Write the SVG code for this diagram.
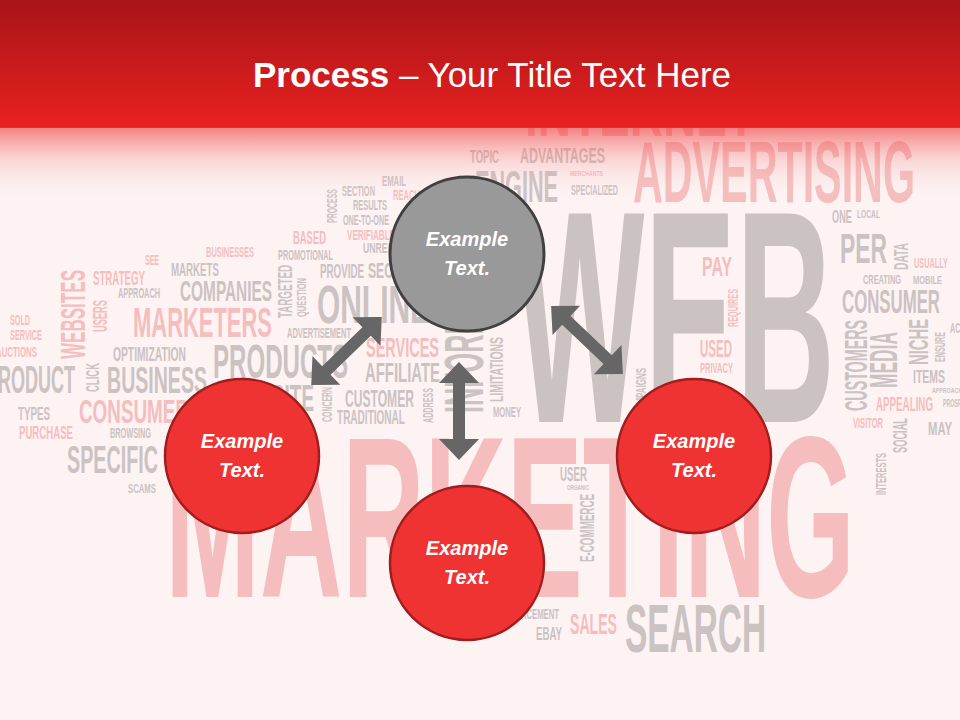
<svg xmlns="http://www.w3.org/2000/svg" width="960" height="720" viewBox="0 0 960 720">
<defs>
<linearGradient id="hdr" x1="0" y1="0" x2="0" y2="1">
<stop offset="0" stop-color="#a81417"/>
<stop offset="1" stop-color="#e92121"/>
</linearGradient>
<linearGradient id="fade" x1="0" y1="0" x2="0" y2="1">
<stop offset="0" stop-color="#ee3030" stop-opacity="0.6"/>
<stop offset="0.45" stop-color="#f38080" stop-opacity="0.25"/>
<stop offset="1" stop-color="#fdf3f3" stop-opacity="0"/>
</linearGradient>
<style>
.w{font-family:"Liberation Sans","DejaVu Sans",sans-serif;font-weight:bold}
.g{fill:#cbc2c2}
.p{fill:#f5bdbd}
.cg{fill:#999999;stroke:#404040;stroke-width:3}
.cr{fill:#ef3333;stroke:#a11c1c;stroke-width:2.5}
.lbl{font-family:"Liberation Sans","DejaVu Sans",sans-serif;font-weight:bold;font-style:italic;font-size:20px;fill:#ffffff;text-anchor:middle}
.arr{fill:#666666}
.title{font-family:"Liberation Sans","DejaVu Sans",sans-serif;font-size:35px;fill:#ffffff;text-anchor:middle}
</style>
</defs>
<rect x="0" y="0" width="960" height="720" fill="#fdf3f3"/>
<g id="wordcloud">
<text class="w g" x="515" y="422" font-size="303" textLength="320" lengthAdjust="spacingAndGlyphs">WEB</text>
<text class="w p" x="165" y="597" font-size="230" textLength="690" lengthAdjust="spacingAndGlyphs">MARKETING</text>
<text class="w p" x="633" y="202" font-size="87" textLength="282" lengthAdjust="spacingAndGlyphs">ADVERTISING</text>
<text class="w p" x="525" y="136" font-size="70" textLength="230" lengthAdjust="spacingAndGlyphs">INTERNET</text>
<text class="w g" x="475" y="202" font-size="45" textLength="83" lengthAdjust="spacingAndGlyphs">ENGINE</text>
<text class="w g" x="470" y="163" font-size="18" textLength="29" lengthAdjust="spacingAndGlyphs">TOPIC</text>
<text class="w g" x="520" y="163" font-size="22" textLength="85" lengthAdjust="spacingAndGlyphs">ADVANTAGES</text>
<text class="w p" x="570" y="176" font-size="7" textLength="33" lengthAdjust="spacingAndGlyphs">MERCHANTS</text>
<text class="w g" x="571" y="195" font-size="14" textLength="47" lengthAdjust="spacingAndGlyphs">SPECIALIZED</text>
<text class="w g" x="382" y="186" font-size="15" textLength="24" lengthAdjust="spacingAndGlyphs">EMAIL</text>
<text class="w g" x="342" y="196" font-size="14" textLength="33" lengthAdjust="spacingAndGlyphs">SECTION</text>
<text class="w p" x="393" y="200" font-size="15" textLength="27" lengthAdjust="spacingAndGlyphs">REACH</text>
<text class="w g" x="353" y="210" font-size="14" textLength="34" lengthAdjust="spacingAndGlyphs">RESULTS</text>
<text class="w g" x="343" y="225" font-size="14" textLength="46" lengthAdjust="spacingAndGlyphs">ONE-TO-ONE</text>
<text class="w p" x="347" y="240" font-size="14" textLength="48" lengthAdjust="spacingAndGlyphs">VERIFIABLE</text>
<text class="w g" x="363" y="253" font-size="14" textLength="30" lengthAdjust="spacingAndGlyphs">UNREF</text>
<text class="w p" x="293" y="244" font-size="18" textLength="33" lengthAdjust="spacingAndGlyphs">BASED</text>
<text class="w g" x="278" y="260" font-size="14" textLength="55" lengthAdjust="spacingAndGlyphs">PROMOTIONAL</text>
<text class="w g" x="320" y="278" font-size="20" textLength="44" lengthAdjust="spacingAndGlyphs">PROVIDE</text>
<text class="w g" x="368" y="278" font-size="22" textLength="25" lengthAdjust="spacingAndGlyphs">SEC</text>
<text class="w g" x="317" y="323" font-size="53" textLength="113" lengthAdjust="spacingAndGlyphs">ONLINE</text>
<text class="w p" x="145" y="265" font-size="14" textLength="14" lengthAdjust="spacingAndGlyphs">SEE</text>
<text class="w p" x="206" y="257" font-size="14" textLength="48" lengthAdjust="spacingAndGlyphs">BUSINESSES</text>
<text class="w g" x="171" y="276" font-size="18" textLength="48" lengthAdjust="spacingAndGlyphs">MARKETS</text>
<text class="w p" x="93" y="285" font-size="20" textLength="52" lengthAdjust="spacingAndGlyphs">STRATEGY</text>
<text class="w g" x="118" y="298" font-size="14" textLength="42" lengthAdjust="spacingAndGlyphs">APPROACH</text>
<text class="w g" x="180" y="301" font-size="29" textLength="92" lengthAdjust="spacingAndGlyphs">COMPANIES</text>
<text class="w p" x="133" y="337" font-size="43" textLength="139" lengthAdjust="spacingAndGlyphs">MARKETERS</text>
<text class="w g" x="287" y="338" font-size="14" textLength="64" lengthAdjust="spacingAndGlyphs">ADVERTISEMENT</text>
<text class="w p" x="10" y="325" font-size="14" textLength="20" lengthAdjust="spacingAndGlyphs">SOLD</text>
<text class="w p" x="10" y="340" font-size="14" textLength="32" lengthAdjust="spacingAndGlyphs">SERVICE</text>
<text class="w p" x="-4" y="357" font-size="14" textLength="41" lengthAdjust="spacingAndGlyphs">AUCTIONS</text>
<text class="w g" x="113" y="361" font-size="20" textLength="73" lengthAdjust="spacingAndGlyphs">OPTIMIZATION</text>
<text class="w g" x="213" y="378" font-size="49" textLength="135" lengthAdjust="spacingAndGlyphs">PRODUCTS</text>
<text class="w g" x="-14" y="393" font-size="39" textLength="89" lengthAdjust="spacingAndGlyphs">PRODUCT</text>
<text class="w g" x="107" y="393" font-size="36" textLength="100" lengthAdjust="spacingAndGlyphs">BUSINESS</text>
<text class="w g" x="272" y="411" font-size="36" textLength="42" lengthAdjust="spacingAndGlyphs">SITE</text>
<text class="w p" x="366" y="357" font-size="28" textLength="73" lengthAdjust="spacingAndGlyphs">SERVICES</text>
<text class="w g" x="365" y="382" font-size="27" textLength="75" lengthAdjust="spacingAndGlyphs">AFFILIATE</text>
<text class="w g" x="345" y="407" font-size="24" textLength="69" lengthAdjust="spacingAndGlyphs">CUSTOMER</text>
<text class="w g" x="337" y="424" font-size="20" textLength="68" lengthAdjust="spacingAndGlyphs">TRADITIONAL</text>
<text class="w p" x="79" y="423" font-size="34" textLength="110" lengthAdjust="spacingAndGlyphs">CONSUMER</text>
<text class="w g" x="18" y="420" font-size="18" textLength="32" lengthAdjust="spacingAndGlyphs">TYPES</text>
<text class="w p" x="19" y="439" font-size="18" textLength="54" lengthAdjust="spacingAndGlyphs">PURCHASE</text>
<text class="w g" x="110" y="438" font-size="14" textLength="41" lengthAdjust="spacingAndGlyphs">BROWSING</text>
<text class="w g" x="67" y="473" font-size="39" textLength="91" lengthAdjust="spacingAndGlyphs">SPECIFIC</text>
<text class="w g" x="128" y="493" font-size="13" textLength="28" lengthAdjust="spacingAndGlyphs">SCAMS</text>
<text class="w g" x="493" y="417" font-size="14" textLength="28" lengthAdjust="spacingAndGlyphs">MONEY</text>
<text class="w p" x="702" y="276" font-size="27" textLength="30" lengthAdjust="spacingAndGlyphs">PAY</text>
<text class="w p" x="700" y="357" font-size="24" textLength="32" lengthAdjust="spacingAndGlyphs">USED</text>
<text class="w p" x="700" y="373" font-size="14" textLength="33" lengthAdjust="spacingAndGlyphs">PRIVACY</text>
<text class="w g" x="832" y="223" font-size="18" textLength="20" lengthAdjust="spacingAndGlyphs">ONE</text>
<text class="w g" x="857" y="218" font-size="11" textLength="23" lengthAdjust="spacingAndGlyphs">LOCAL</text>
<text class="w g" x="840" y="263" font-size="43" textLength="47" lengthAdjust="spacingAndGlyphs">PER</text>
<text class="w p" x="914" y="268" font-size="14" textLength="34" lengthAdjust="spacingAndGlyphs">USUALLY</text>
<text class="w g" x="863" y="284" font-size="13" textLength="38" lengthAdjust="spacingAndGlyphs">CREATING</text>
<text class="w g" x="913" y="284" font-size="11" textLength="29" lengthAdjust="spacingAndGlyphs">MOBILE</text>
<text class="w g" x="842" y="313" font-size="34" textLength="98" lengthAdjust="spacingAndGlyphs">CONSUMER</text>
<text class="w g" x="950" y="333" font-size="14" textLength="30" lengthAdjust="spacingAndGlyphs">ACCESS</text>
<text class="w g" x="913" y="383" font-size="18" textLength="32" lengthAdjust="spacingAndGlyphs">ITEMS</text>
<text class="w g" x="932" y="393" font-size="7" textLength="30" lengthAdjust="spacingAndGlyphs">APPROACH</text>
<text class="w p" x="876" y="411" font-size="20" textLength="57" lengthAdjust="spacingAndGlyphs">APPEALING</text>
<text class="w g" x="943" y="407" font-size="10" textLength="32" lengthAdjust="spacingAndGlyphs">PROSPECTS</text>
<text class="w p" x="853" y="428" font-size="15" textLength="30" lengthAdjust="spacingAndGlyphs">VISITOR</text>
<text class="w g" x="928" y="435" font-size="18" textLength="24" lengthAdjust="spacingAndGlyphs">MAY</text>
<text class="w g" x="560" y="481" font-size="20" textLength="27" lengthAdjust="spacingAndGlyphs">USER</text>
<text class="w g" x="567" y="490" font-size="8" textLength="22" lengthAdjust="spacingAndGlyphs">ORGANIC</text>
<text class="w g" x="511" y="619" font-size="15" textLength="48" lengthAdjust="spacingAndGlyphs">PLACEMENT</text>
<text class="w g" x="536" y="640" font-size="18" textLength="26" lengthAdjust="spacingAndGlyphs">EBAY</text>
<text class="w p" x="570" y="634" font-size="29" textLength="47" lengthAdjust="spacingAndGlyphs">SALES</text>
<text class="w g" x="625" y="652" font-size="68" textLength="141" lengthAdjust="spacingAndGlyphs">SEARCH</text>
<text class="w p" transform="translate(85,359) rotate(-90)" font-size="35" textLength="89" lengthAdjust="spacingAndGlyphs">WEBSITES</text>
<text class="w p" transform="translate(107,332) rotate(-90)" font-size="21" textLength="32" lengthAdjust="spacingAndGlyphs">USERS</text>
<text class="w g" transform="translate(292,318) rotate(-90)" font-size="20" textLength="53" lengthAdjust="spacingAndGlyphs">TARGETED</text>
<text class="w g" transform="translate(306,317) rotate(-90)" font-size="13" textLength="39" lengthAdjust="spacingAndGlyphs">QUESTION</text>
<text class="w g" transform="translate(337,223) rotate(-90)" font-size="14" textLength="34" lengthAdjust="spacingAndGlyphs">PROCESS</text>
<text class="w g" transform="translate(99,392) rotate(-90)" font-size="18" textLength="29" lengthAdjust="spacingAndGlyphs">CLICK</text>
<text class="w g" transform="translate(332,422) rotate(-90)" font-size="14" textLength="35" lengthAdjust="spacingAndGlyphs">CONCERN</text>
<text class="w g" transform="translate(433,423) rotate(-90)" font-size="14" textLength="35" lengthAdjust="spacingAndGlyphs">ADDRESS</text>
<text class="w g" transform="translate(483,413) rotate(-90)" font-size="56" textLength="176" lengthAdjust="spacingAndGlyphs">INFORMATION</text>
<text class="w g" transform="translate(503,402) rotate(-90)" font-size="18" textLength="65" lengthAdjust="spacingAndGlyphs">LIMITATIONS</text>
<text class="w g" transform="translate(646,416) rotate(-90)" font-size="15" textLength="48" lengthAdjust="spacingAndGlyphs">CAMPAIGNS</text>
<text class="w p" transform="translate(738,327) rotate(-90)" font-size="15" textLength="38" lengthAdjust="spacingAndGlyphs">REQUIRES</text>
<text class="w g" transform="translate(908,270) rotate(-90)" font-size="21" textLength="27" lengthAdjust="spacingAndGlyphs">DATA</text>
<text class="w g" transform="translate(867,411) rotate(-90)" font-size="32" textLength="91" lengthAdjust="spacingAndGlyphs">CUSTOMERS</text>
<text class="w g" transform="translate(897,388) rotate(-90)" font-size="38" textLength="56" lengthAdjust="spacingAndGlyphs">MEDIA</text>
<text class="w g" transform="translate(928,365) rotate(-90)" font-size="28" textLength="46" lengthAdjust="spacingAndGlyphs">NICHE</text>
<text class="w g" transform="translate(945,362) rotate(-90)" font-size="14" textLength="30" lengthAdjust="spacingAndGlyphs">ENSURE</text>
<text class="w g" transform="translate(907,453) rotate(-90)" font-size="20" textLength="35" lengthAdjust="spacingAndGlyphs">SOCIAL</text>
<text class="w g" transform="translate(886,495) rotate(-90)" font-size="15" textLength="42" lengthAdjust="spacingAndGlyphs">INTERESTS</text>
<text class="w g" transform="translate(594,562) rotate(-90)" font-size="21" textLength="68" lengthAdjust="spacingAndGlyphs">E-COMMERCE</text>
</g>
<g id="header">
<rect x="0" y="0" width="960" height="128" fill="url(#hdr)"/>
<rect x="0" y="127" width="960" height="75" fill="url(#fade)"/>
<text class="title" x="492" y="87"><tspan font-weight="bold">Process</tspan> – Your Title Text Here</text>
</g>
<g id="connectors">
<path class="arr" transform="translate(346.5,351) rotate(-44)" d="M-49,0 L-28,-20 L-28,-6 L28,-6 L28,-20 L49,0 L28,20 L28,6 L-28,6 L-28,20 Z"/>
<path class="arr" transform="translate(587,340) rotate(43.5)" d="M-49.5,0 L-28.5,-20 L-28.5,-6 L28.5,-6 L28.5,-20 L49.5,0 L28.5,20 L28.5,6 L-28.5,6 L-28.5,20 Z"/>
<path class="arr" transform="translate(459,411) rotate(90)" d="M-49,0 L-28,-20 L-28,-6 L28,-6 L28,-20 L49,0 L28,20 L28,6 L-28,6 L-28,20 Z"/>
</g>
<g id="node-top">
<circle class="cg" cx="467" cy="254" r="77"/>
<text class="lbl" x="467" y="246">Example</text>
<text class="lbl" x="467" y="275">Text.</text>
</g>
<g id="node-left">
<circle class="cr" cx="242" cy="456" r="77"/>
<text class="lbl" x="242" y="448">Example</text>
<text class="lbl" x="242" y="477">Text.</text>
</g>
<g id="node-right">
<circle class="cr" cx="694" cy="456" r="77"/>
<text class="lbl" x="694" y="448">Example</text>
<text class="lbl" x="694" y="477">Text.</text>
</g>
<g id="node-bottom">
<circle class="cr" cx="467" cy="563" r="77"/>
<text class="lbl" x="467" y="555">Example</text>
<text class="lbl" x="467" y="584">Text.</text>
</g>
</svg>
